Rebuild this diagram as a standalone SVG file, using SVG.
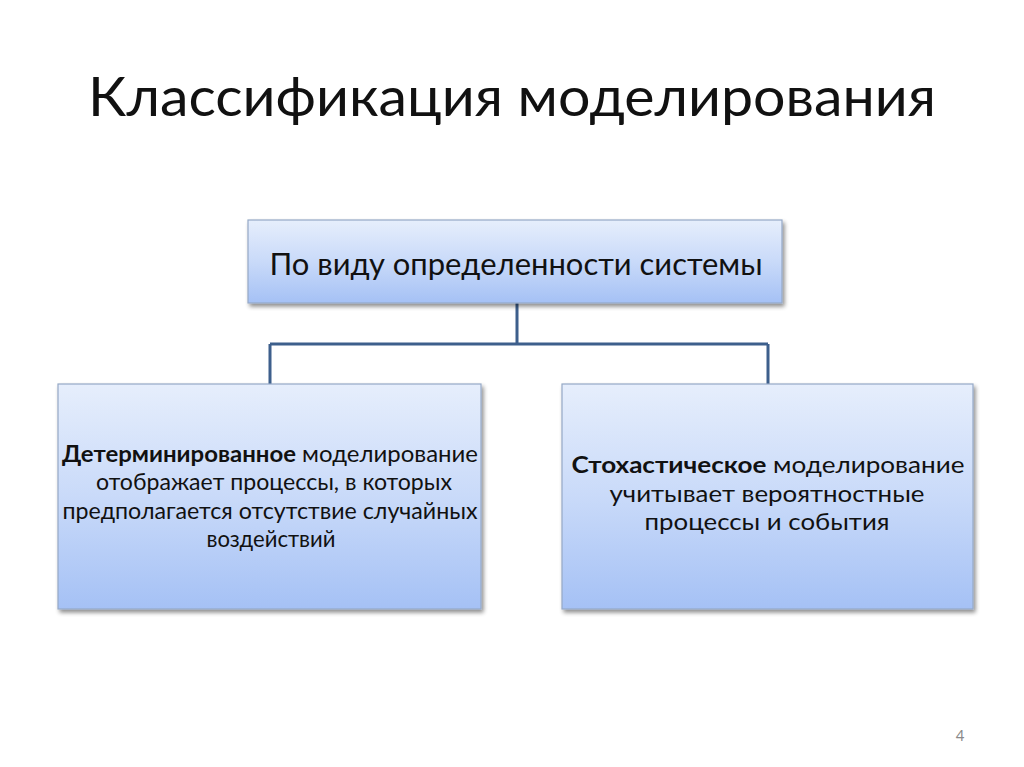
<svg xmlns="http://www.w3.org/2000/svg" width="1024" height="767" viewBox="0 0 1024 767">
<defs>
<linearGradient id="g" x1="0" y1="0" x2="0" y2="1">
<stop offset="0" stop-color="#e6eefc"/>
<stop offset="0.5" stop-color="#c9daf9"/>
<stop offset="1" stop-color="#a5c1f5"/>
</linearGradient>
<filter id="sh" x="-5%" y="-5%" width="115%" height="120%">
<feGaussianBlur in="SourceAlpha" stdDeviation="2"/>
<feOffset dx="2" dy="3" result="o"/>
<feComponentTransfer><feFuncA type="linear" slope="0.45"/></feComponentTransfer>
<feMerge><feMergeNode/><feMergeNode in="SourceGraphic"/></feMerge>
</filter>
</defs>
<style>
.box{fill:url(#g);stroke:#95a8c6;stroke-width:1.2;filter:url(#sh)}
.t{font-family:Lato,"Open Sans","Noto Sans",sans-serif;fill:#111;text-anchor:middle}
.b{font-size:23.5px}
.con{fill:none;stroke:#3d5f8c;stroke-width:3}
</style>
<rect width="1024" height="767" fill="#fff"/>
<text class="t" x="512" y="116" font-size="55" textLength="848" lengthAdjust="spacingAndGlyphs">Классификация моделирования</text>
<g id="connectors">
<path class="con" d="M517 303 V344 M270 344 H768 M270 344 V384 M768 344 V384"/>
</g>
<g id="top">
<rect class="box" x="248" y="220" width="534" height="83"/>
<text class="t" x="516" y="275" font-size="31" textLength="493" lengthAdjust="spacingAndGlyphs">По виду определенности системы</text>
</g>
<g id="left">
<rect class="box" x="58" y="384" width="423" height="225"/>
<text class="t b" x="270" y="462" textLength="416" lengthAdjust="spacingAndGlyphs"><tspan font-weight="bold">Детерминированное</tspan> моделирование</text>
<text class="t b" x="274" y="490" textLength="356" lengthAdjust="spacingAndGlyphs">отображает процессы, в которых</text>
<text class="t b" x="270" y="519" textLength="415" lengthAdjust="spacingAndGlyphs">предполагается отсутствие случайных</text>
<text class="t b" x="271" y="547" textLength="129" lengthAdjust="spacingAndGlyphs">воздействий</text>
</g>
<g id="right">
<rect class="box" x="562" y="384" width="411" height="225"/>
<text class="t b" x="768" y="473" textLength="393" lengthAdjust="spacingAndGlyphs"><tspan font-weight="bold">Стохастическое</tspan> моделирование</text>
<text class="t b" x="767" y="502" textLength="315" lengthAdjust="spacingAndGlyphs">учитывает вероятностные</text>
<text class="t b" x="767" y="530" textLength="245" lengthAdjust="spacingAndGlyphs">процессы и события</text>
</g>
<text x="960" y="741" font-family="Lato,'Open Sans',sans-serif" font-size="15" fill="#8a8a8a" text-anchor="middle">4</text>
</svg>
